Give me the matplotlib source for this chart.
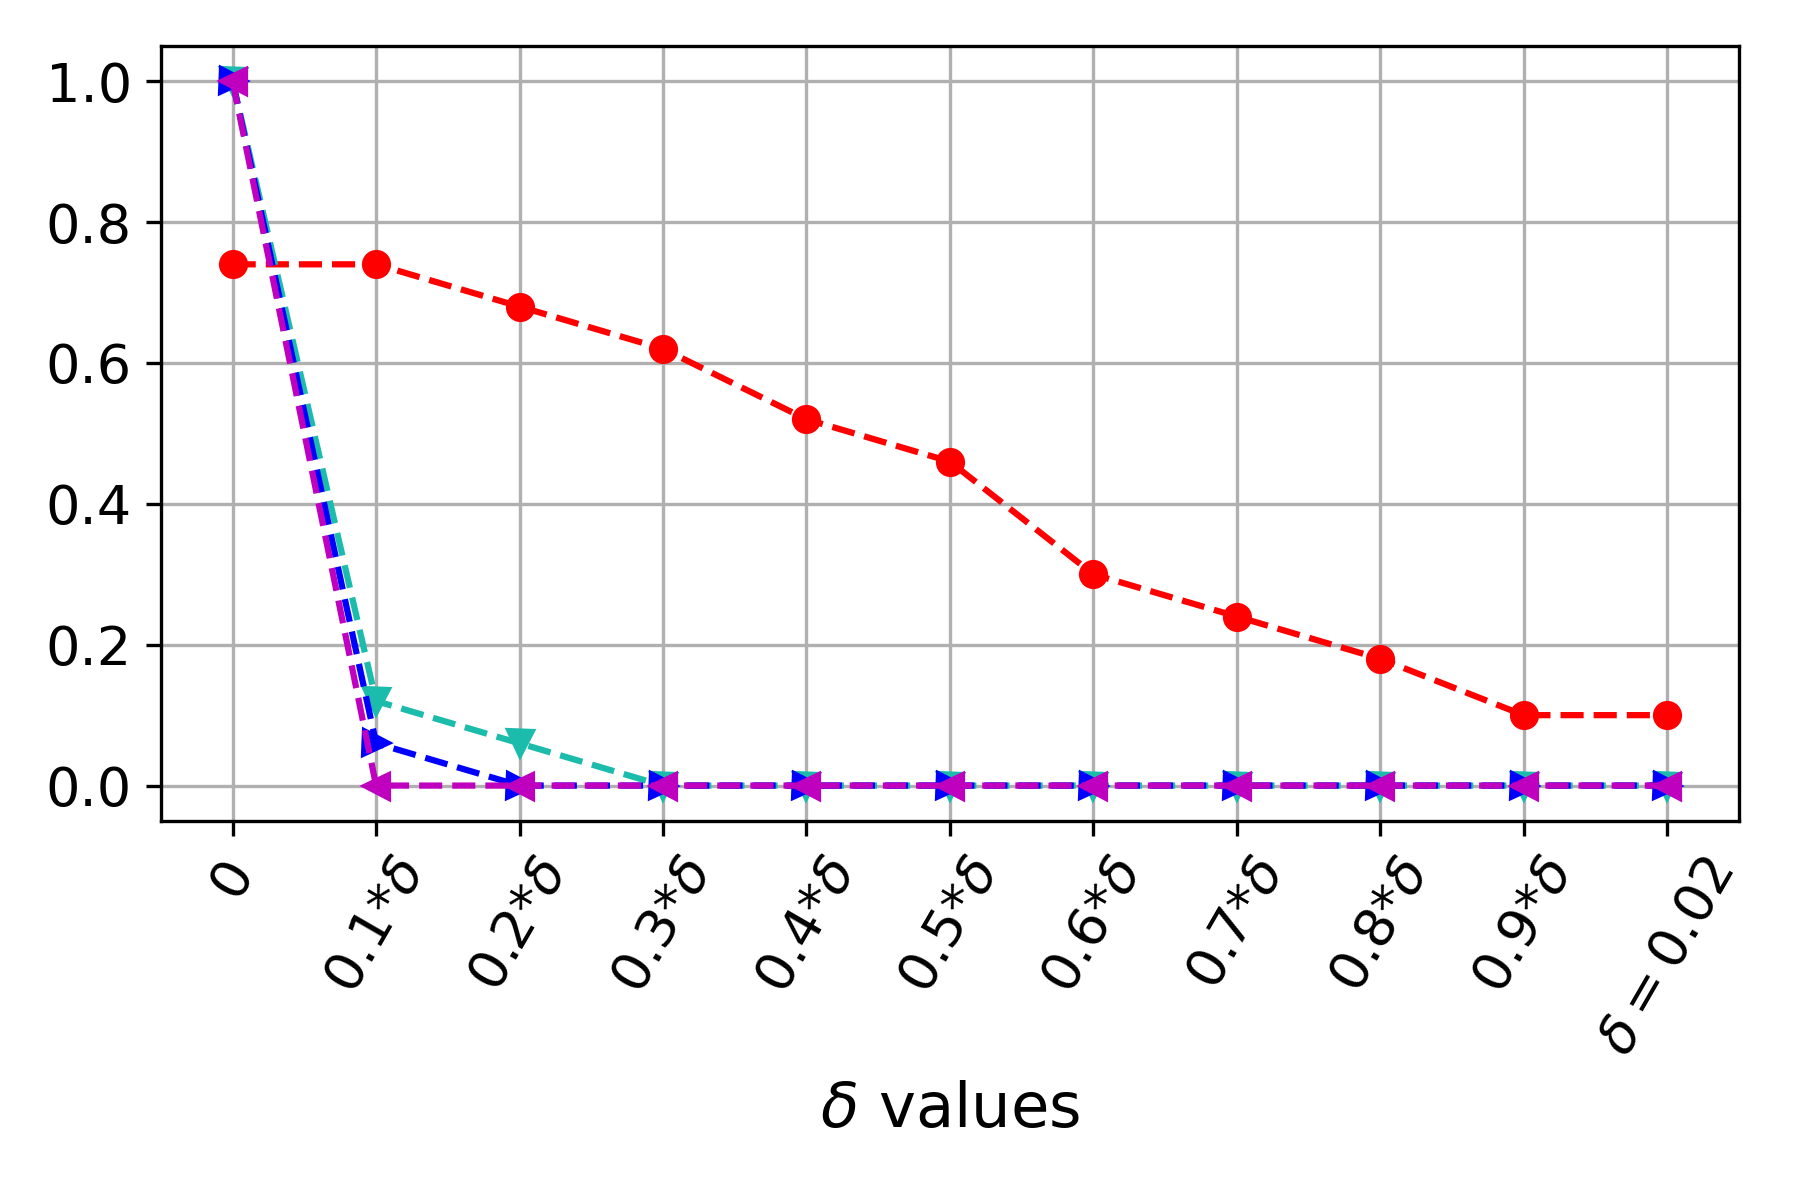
import matplotlib
matplotlib.use("Agg")
import matplotlib.pyplot as plt

# x tick labels (fractions of delta)
x_labels = ["0", r"0.1*$\delta$", r"0.2*$\delta$", r"0.3*$\delta$", r"0.4*$\delta$",
            r"0.5*$\delta$", r"0.6*$\delta$", r"0.7*$\delta$", r"0.8*$\delta$",
            r"0.9*$\delta$", r"$\delta=0.02$"]
x_pos = list(range(len(x_labels)))

red_vals = [0.74, 0.74, 0.68, 0.62, 0.52, 0.46, 0.30, 0.24, 0.18, 0.10, 0.10]
cyan_vals = [1.0, 0.12, 0.06, 0, 0, 0, 0, 0, 0, 0, 0]
blue_vals = [1.0, 0.06, 0, 0, 0, 0, 0, 0, 0, 0, 0]
magenta_vals = [1.0, 0, 0, 0, 0, 0, 0, 0, 0, 0, 0]

fig, ax = plt.subplots(figsize=(6, 4), dpi=300)
fig.subplots_adjust(left=0.0894, right=0.966, top=0.9617, bottom=0.316)

ax.plot(x_pos, red_vals, 'o--', color='r')
ax.plot(x_pos, cyan_vals, 'v--', color='#1cbcac')
ax.plot(x_pos, blue_vals, '>--', color='b')
ax.plot(x_pos, magenta_vals, '<--', color='m')

ax.set_xticks(x_pos)
ax.set_xticklabels(x_labels, rotation=60, fontsize=13)
ax.tick_params(axis='y', labelsize=13)
ax.set_xlabel(r"$\delta$ values", fontsize=15)
ax.grid(True)

plt.savefig("out.png", dpi=300)
